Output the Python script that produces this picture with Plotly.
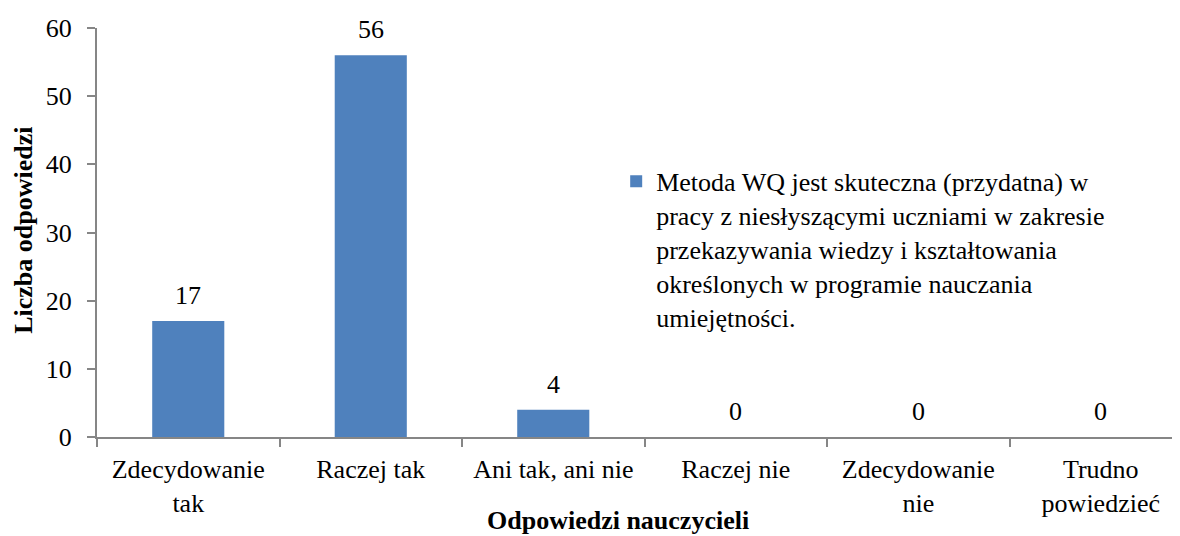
import plotly.graph_objects as go

categories = ["Zdecydowanie<br>tak", "Raczej tak", "Ani tak, ani nie", "Raczej nie", "Zdecydowanie<br>nie", "Trudno<br>powiedzieć"]
values = [17, 56, 4, 0, 0, 0]
series_name = ("Metoda WQ jest skuteczna (przydatna) w<br>pracy z niesłyszącymi uczniami w zakresie<br>"
               "przekazywania wiedzy i kształtowania<br>określonych w programie nauczania<br>umiejętności.")
y_ticks = [0, 10, 20, 30, 40, 50, 60]
x_title = "Odpowiedzi nauczycieli"
y_title = "Liczba odpowiedzi"

FONT = "Liberation Serif"
FS = 26
AXIS = "#868686"

fig = go.Figure()
fig.add_trace(go.Bar(
    x=categories, y=values, name=series_name,
    marker=dict(color="#4F81BD", line=dict(width=0)),
    showlegend=True,
))

for c, v in zip(categories, values):
    fig.add_annotation(x=c, y=v, text=str(v), showarrow=False, yanchor="bottom",
                       yshift=9, font=dict(family=FONT, size=FS, color="black"))

fig.add_annotation(xref="paper", yref="paper", x=0.481, y=-0.203, text=f"<b>{x_title}</b>",
                   showarrow=False, xanchor="center", yanchor="middle",
                   font=dict(family=FONT, size=FS, color="black"))
fig.add_annotation(xref="paper", yref="paper", x=-0.068, y=0.505, text=f"<b>{y_title}</b>",
                   showarrow=False, textangle=-90, xanchor="center", yanchor="middle",
                   font=dict(family=FONT, size=FS, color="black"))

fig.update_layout(
    width=1172, height=528,
    margin=dict(l=89, r=0, t=20, b=99),
    paper_bgcolor="white", plot_bgcolor="white",
    bargap=0.605,
    font=dict(family=FONT, size=FS, color="black"),
    legend=dict(x=0.4794, y=0.6824, xanchor="left", yanchor="top", valign="top",
                font=dict(family=FONT, size=FS, color="black"),
                bgcolor="rgba(0,0,0,0)", tracegroupgap=0),
    xaxis=dict(range=[-0.5, 5.434], showline=True, linecolor=AXIS, linewidth=2,
               ticks="outside", tickson="boundaries", ticklen=8, tickcolor=AXIS, tickwidth=2,
               showgrid=False, zeroline=False, automargin=False, ticklabelstandoff=8,
               tickfont=dict(family=FONT, size=FS, color="black")),
    yaxis=dict(range=[0, 60], tickvals=y_ticks, showline=True, linecolor=AXIS, linewidth=2,
               ticks="outside", ticklen=8, tickcolor=AXIS, tickwidth=2,
               showgrid=False, zeroline=False, automargin=False, ticklabelstandoff=10,
               tickfont=dict(family=FONT, size=FS, color="black")),
)

fig.write_html("out.html")
